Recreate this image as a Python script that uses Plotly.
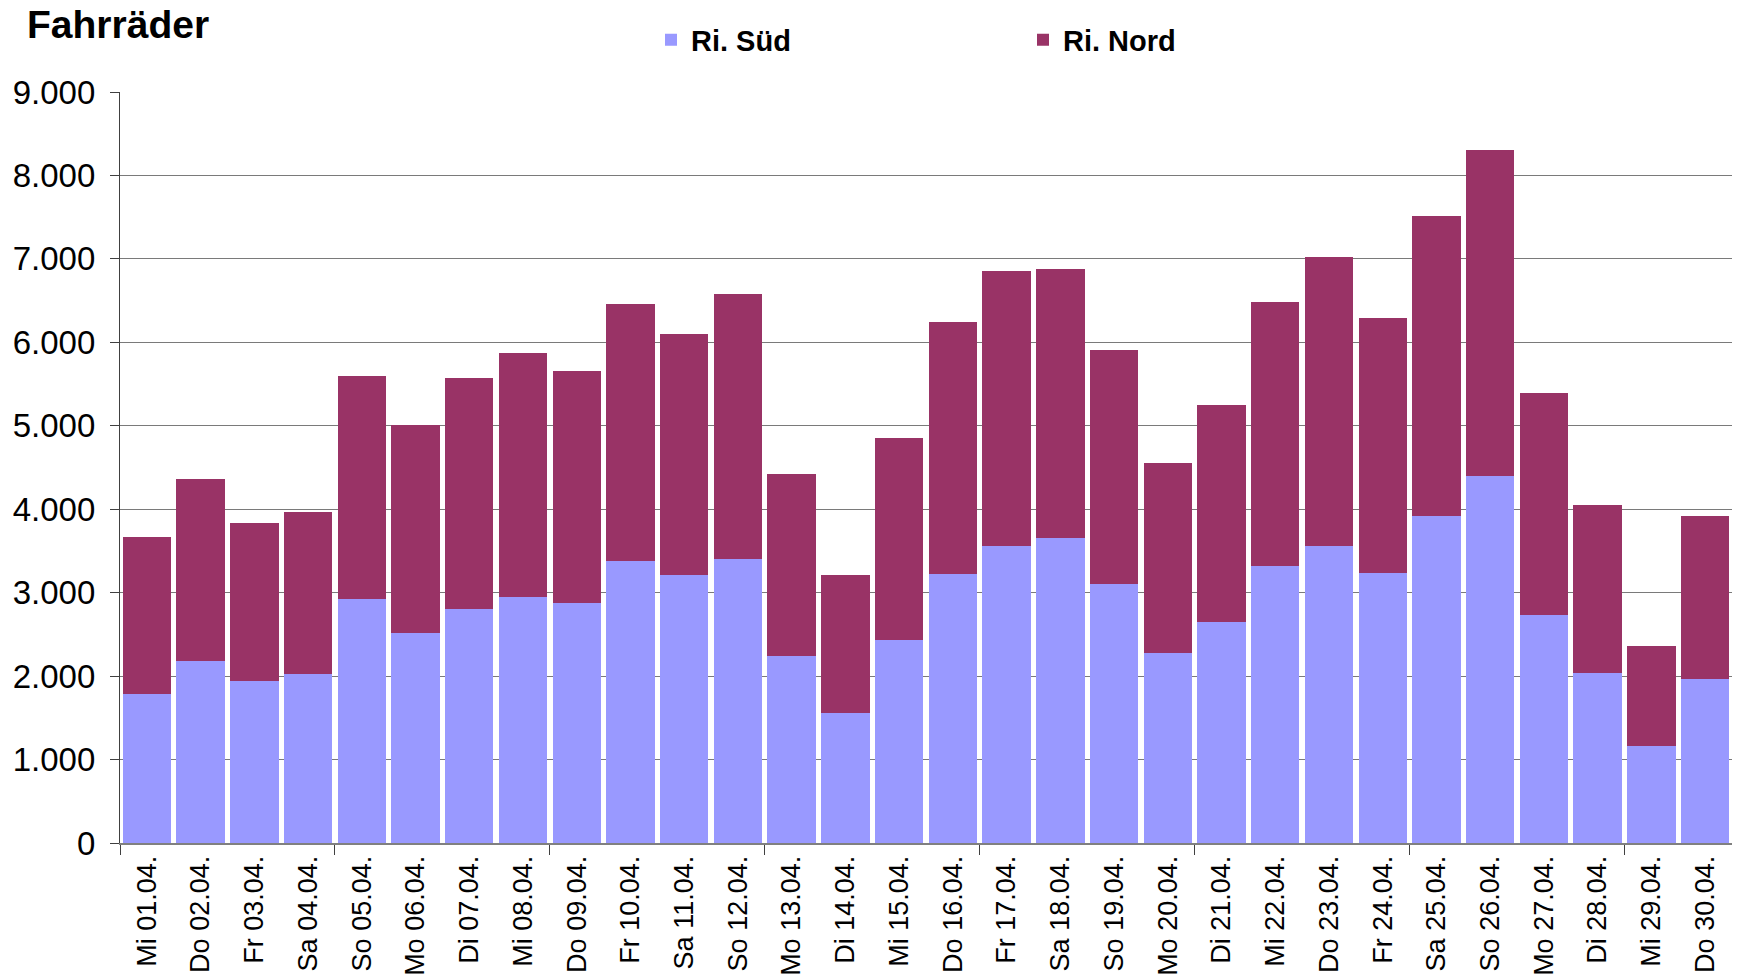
import plotly.graph_objects as go

categories = ["Mi 01.04.", "Do 02.04.", "Fr 03.04.", "Sa 04.04.", "So 05.04.", "Mo 06.04.",
              "Di 07.04.", "Mi 08.04.", "Do 09.04.", "Fr 10.04.", "Sa 11.04.", "So 12.04.",
              "Mo 13.04.", "Di 14.04.", "Mi 15.04.", "Do 16.04.", "Fr 17.04.", "Sa 18.04.",
              "So 19.04.", "Mo 20.04.", "Di 21.04.", "Mi 22.04.", "Do 23.04.", "Fr 24.04.",
              "Sa 25.04.", "So 26.04.", "Mo 27.04.", "Di 28.04.", "Mi 29.04.", "Do 30.04."]

sued = [1780, 2176, 1940, 2020, 2920, 2520, 2804, 2944, 2876, 3380, 3212, 3404,
        2236, 1562, 2430, 3220, 3565, 3656, 3105, 2278, 2650, 3316, 3560, 3238,
        3914, 4396, 2738, 2036, 1164, 1964]

total = [3664, 4360, 3832, 3968, 5596, 5008, 5568, 5872, 5652, 6460, 6104, 6584,
         4420, 3215, 4851, 6243, 6853, 6876, 5903, 4557, 5246, 6481, 7019, 6288,
         7510, 8310, 5388, 4051, 2356, 3918]

nord = [t - s for t, s in zip(total, sued)]

y_ticks = [0, 1000, 2000, 3000, 4000, 5000, 6000, 7000, 8000, 9000]

FONT = "Liberation Sans, Arial, sans-serif"
W, H = 1744, 978
x_pos = list(range(len(categories)))
group_ticks = [i - 0.5 for i in range(0, len(categories), 4)]

fig = go.Figure()
fig.add_trace(go.Bar(x=x_pos, y=sued, name="Ri. Süd", marker_color="#9999FF",
                     marker_line_width=0))
fig.add_trace(go.Bar(x=x_pos, y=nord, name="Ri. Nord", marker_color="#993366",
                     marker_line_width=0))

fig.update_layout(
    barmode="stack",
    bargap=0.1,
    width=W, height=H,
    paper_bgcolor="white", plot_bgcolor="white",
    separators=",.",
    margin=dict(l=120, r=12, t=92, b=135),
    font=dict(family=FONT, color="black"),
    title=dict(text="<b>Fahrräder</b>", font=dict(family=FONT, size=39, color="black"),
               x=27 / W, xanchor="left", xref="container",
               y=1 - 24 / H, yanchor="middle", yref="container", automargin=False),
    legend=dict(orientation="h", xref="container", yref="container",
                x=651 / W, xanchor="left", y=1 - 40 / H, yanchor="middle",
                traceorder="normal",
                font=dict(family=FONT, size=29, color="black", weight="bold"),
                entrywidth=327, entrywidthmode="pixels",
                bgcolor="rgba(0,0,0,0)"),
    showlegend=True,
)

fig.update_yaxes(
    range=[0, 9000], tickvals=y_ticks, tickformat=",d",
    tickfont=dict(family=FONT, size=33, color="black"),
    showgrid=True, gridcolor="#7a7a7a", gridwidth=1.3,
    showline=True, linecolor="#404040", linewidth=1.3,
    ticks="outside", ticklen=9, tickcolor="#404040", tickwidth=1.3,
    ticklabelstandoff=8, zeroline=False, automargin=False,
)

fig.update_xaxes(
    range=[-0.5, len(categories) - 0.5],
    tickmode="array", tickvals=x_pos, ticktext=categories, tickangle=-90,
    tickfont=dict(family=FONT, size=27, color="black"),
    ticks="", showgrid=False, zeroline=False,
    showline=True, linecolor="#808080", linewidth=2,
    minor=dict(tickmode="array", tickvals=group_ticks, ticks="outside", ticklen=10,
               tickcolor="#404040", tickwidth=1.3, showgrid=False),
    ticklabelstandoff=0, automargin=False,
)

fig.write_html("out.html", config={"displayModeBar": False},
               post_script="document.body.style.margin='0';")
